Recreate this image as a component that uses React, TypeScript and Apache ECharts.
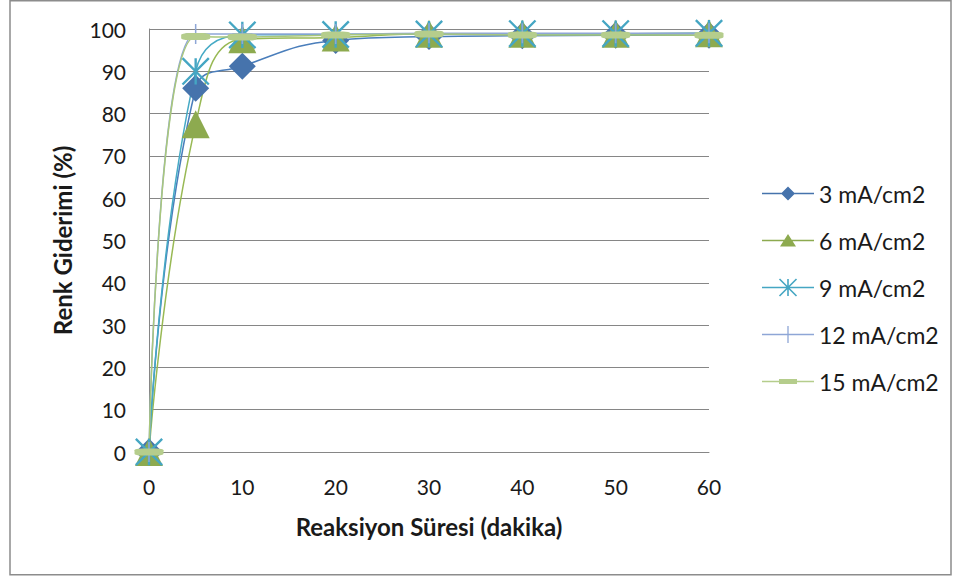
import React, { useEffect, useRef } from "react";
import * as echarts from "echarts";

// Reaction time (minutes)
const time = [0, 5, 10, 20, 30, 40, 50, 60];

// Colour removal (%) at each current density
const names = ["3 mA/cm2", "6 mA/cm2", "9 mA/cm2", "12 mA/cm2", "15 mA/cm2"];
const s3 = [0, 86, 91.2, 97.3, 98.2, 98.4, 98.5, 98.5];
const s6 = [0, 77.5, 97.6, 98, 98.9, 98.9, 98.9, 99];
const s9 = [0, 90, 98.6, 98.7, 98.8, 98.9, 98.9, 99];
const s12 = [0, 98.8, 98.8, 98.8, 99, 99, 99, 99];
const s15 = [0, 98.2, 98.1, 98.6, 98.8, 98.6, 98.6, 98.5];

const xTicks = { min: 0, max: 60, interval: 10 };
const yTicks = { min: 0, max: 100, interval: 10 };

const FONT = "Lato, 'Open Sans', sans-serif";

const r = (v: number) => Math.round(v * 100) / 100;

// Filled strip between two points; every strip winds the same way so
// overlapping strips stay filled under the nonzero rule.
function strip(x1: number, y1: number, x2: number, y2: number, w: number) {
  const dx = x2 - x1;
  const dy = y2 - y1;
  const len = Math.sqrt(dx * dx + dy * dy);
  const nx = (-dy / len) * (w / 2);
  const ny = (dx / len) * (w / 2);
  return (
    `M${r(x1 + nx)} ${r(y1 + ny)}L${r(x2 + nx)} ${r(y2 + ny)}` +
    `L${r(x2 - nx)} ${r(y2 - ny)}L${r(x1 - nx)} ${r(y1 - ny)}Z`
  );
}

function box(x: number, y: number, w: number, h: number) {
  return `M${x} ${y}L${x} ${y + h}L${x + w} ${y + h}L${x + w} ${y}Z`;
}

// Marker shapes on the plot
const asteriskPath =
  "path://" +
  strip(0, 0, 100, 100, 9) +
  strip(100, 0, 0, 100, 9) +
  strip(50, 0, 50, 100, 9);
const plusPath =
  "path://" + strip(50, 0, 50, 100, 7.5) + strip(0, 50, 100, 50, 7.5);

// Legend keys: a short line with the marker in its middle (52 x 20 box)
const LW = 52;
const LH = 20;
const frame = `M0 0M${LW} ${LH}`;
const keyLine = box(0, 9.25, LW, 1.5);
const legendIcons = [
  "path://" + frame + keyLine + "M26 3L19 10L26 17L33 10Z",
  "path://" + frame + keyLine + "M26 3.5L18 16L34 16Z",
  "path://" +
    frame +
    keyLine +
    strip(17.5, 1.5, 34.5, 18.5, 1.6) +
    strip(34.5, 1.5, 17.5, 18.5, 1.6) +
    strip(26, 1.5, 26, 18.5, 1.6),
  "path://" + frame + keyLine + strip(26, 1.5, 26, 18.5, 1.3),
  "path://" + frame + keyLine + box(17, 7.5, 18, 5),
];

const colors = ["#4673AC", "#8DAA4F", "#45A6C3", "#8EA6D6", "#B5CD8C"];
const lineColors = ["#4A7EBB", "#98B954", "#46AAC5", "#8EA6D6", "#A9C77C"];
const symbols = ["diamond", "triangle", asteriskPath, plusPath, "roundRect"];
const symbolSizes: (number | number[])[] = [27, 28, 28, 20, [29, 7]];
const values = [s3, s6, s9, s12, s15];

export default function App() {
  const ref = useRef<HTMLDivElement>(null);

  useEffect(() => {
    if (!ref.current) return;
    const chart = echarts.init(ref.current, undefined, { renderer: "svg" });

    const series = names.map((name, i) => ({
      name,
      type: "line",
      smooth: 0.45,
      clip: false,
      data: time.map((t, k) => [t, values[i][k]]),
      symbol: symbols[i],
      symbolSize: symbolSizes[i],
      showAllSymbol: true,
      lineStyle: { color: lineColors[i], width: 1.5 },
      itemStyle: { color: colors[i], borderWidth: 0 },
      emphasis: { disabled: true },
    }));

    chart.setOption({
      animation: false,
      backgroundColor: "#ffffff",
      grid: { left: 149, right: 253, top: 29, bottom: 127 },
      xAxis: {
        type: "value",
        ...xTicks,
        name: "Reaksiyon Süresi (dakika)",
        nameLocation: "middle",
        nameGap: 62,
        nameTextStyle: {
          fontFamily: FONT,
          fontSize: 24,
          fontWeight: "bold",
          color: "#1a1a1a",
        },
        axisLine: { show: true, lineStyle: { color: "#868686", width: 1 } },
        axisTick: { show: false },
        splitLine: { show: false },
        axisLabel: {
          fontFamily: FONT,
          fontSize: 21,
          color: "#1a1a1a",
          margin: 24,
        },
      },
      yAxis: {
        type: "value",
        ...yTicks,
        name: "Renk Giderimi (%)",
        nameLocation: "middle",
        nameRotate: 90,
        nameGap: 75,
        nameTextStyle: {
          fontFamily: FONT,
          fontSize: 24,
          fontWeight: "bold",
          color: "#1a1a1a",
        },
        axisLine: { show: true, lineStyle: { color: "#868686", width: 1 } },
        axisTick: { show: false },
        splitLine: { show: true, lineStyle: { color: "#868686", width: 1 } },
        axisLabel: {
          fontFamily: FONT,
          fontSize: 21,
          color: "#1a1a1a",
          margin: 23,
        },
      },
      legend: {
        orient: "vertical",
        left: 762,
        top: 182,
        padding: 0,
        itemWidth: LW,
        itemHeight: LH,
        itemGap: 24,
        selectedMode: false,
        textStyle: {
          fontFamily: FONT,
          fontSize: 23,
          lineHeight: 22,
          color: "#1a1a1a",
        },
        data: names.map((name, i) => ({
          name,
          icon: legendIcons[i],
          itemStyle: { color: colors[i], borderWidth: 0 },
        })),
      },
      graphic: [
        {
          type: "rect",
          shape: { x: 10, y: 0.75, width: 941, height: 574 },
          style: { fill: "none", stroke: "#8c8c8c", lineWidth: 1.5 },
          silent: true,
          z: -10,
        },
      ],
      series,
    });

    return () => chart.dispose();
  }, []);

  return (
    <div
      ref={ref}
      style={{ position: "fixed", left: 0, top: 0, width: 962, height: 579 }}
    />
  );
}
